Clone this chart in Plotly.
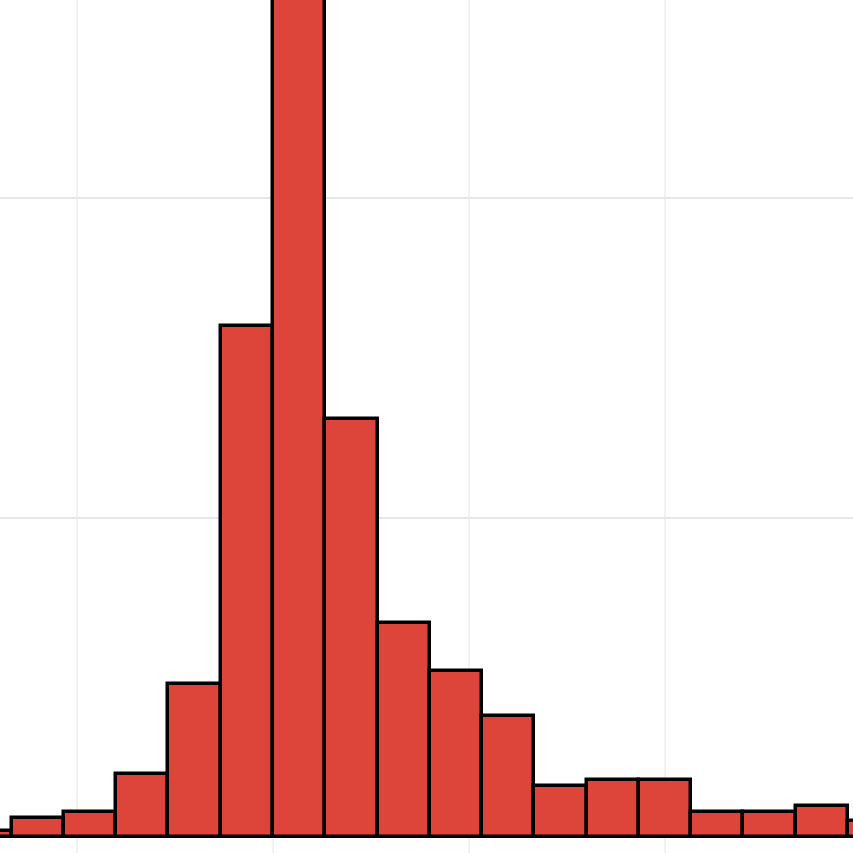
import plotly.graph_objects as go

# bin centres (width 4) and counts
bin_centers = [-22, -18, -14, -10, -6, -2, 2, 6, 10, 14, 18, 22, 26, 30, 34, 38, 42, 46]
counts = [1, 3, 4, 10, 24, 80, 140, 65.5, 33.5, 26, 19, 8, 9, 9, 4, 4, 5, 2.6]

fig = go.Figure()
fig.add_trace(go.Bar(
    x=bin_centers,
    y=counts,
    width=4,
    marker=dict(color="#DE453A", line=dict(color="black", width=3.5)),
    showlegend=False,
))

fig.update_layout(
    width=853,
    height=853,
    margin=dict(l=0, r=0, t=0, b=0),
    paper_bgcolor="white",
    plot_bgcolor="white",
    bargap=0,
)
fig.update_xaxes(
    range=[-20.89, 44.39],
    tick0=0, dtick=15,
    showticklabels=False, ticks="",
    showgrid=True, gridcolor="#f2f2f2", gridwidth=2,
    zeroline=False,
)
fig.update_yaxes(
    range=[-2.43, 131.06],
    tick0=0, dtick=50,
    showticklabels=False, ticks="",
    showgrid=True, gridcolor="#e6e6e6", gridwidth=2,
    zeroline=True, zerolinecolor="#e6e6e6", zerolinewidth=2,
)

# drop the browser's default body margin so the plot sits at 0,0
fig.write_html("out.html", config={"displayModeBar": False},
               post_script="document.body.style.margin='0';")
